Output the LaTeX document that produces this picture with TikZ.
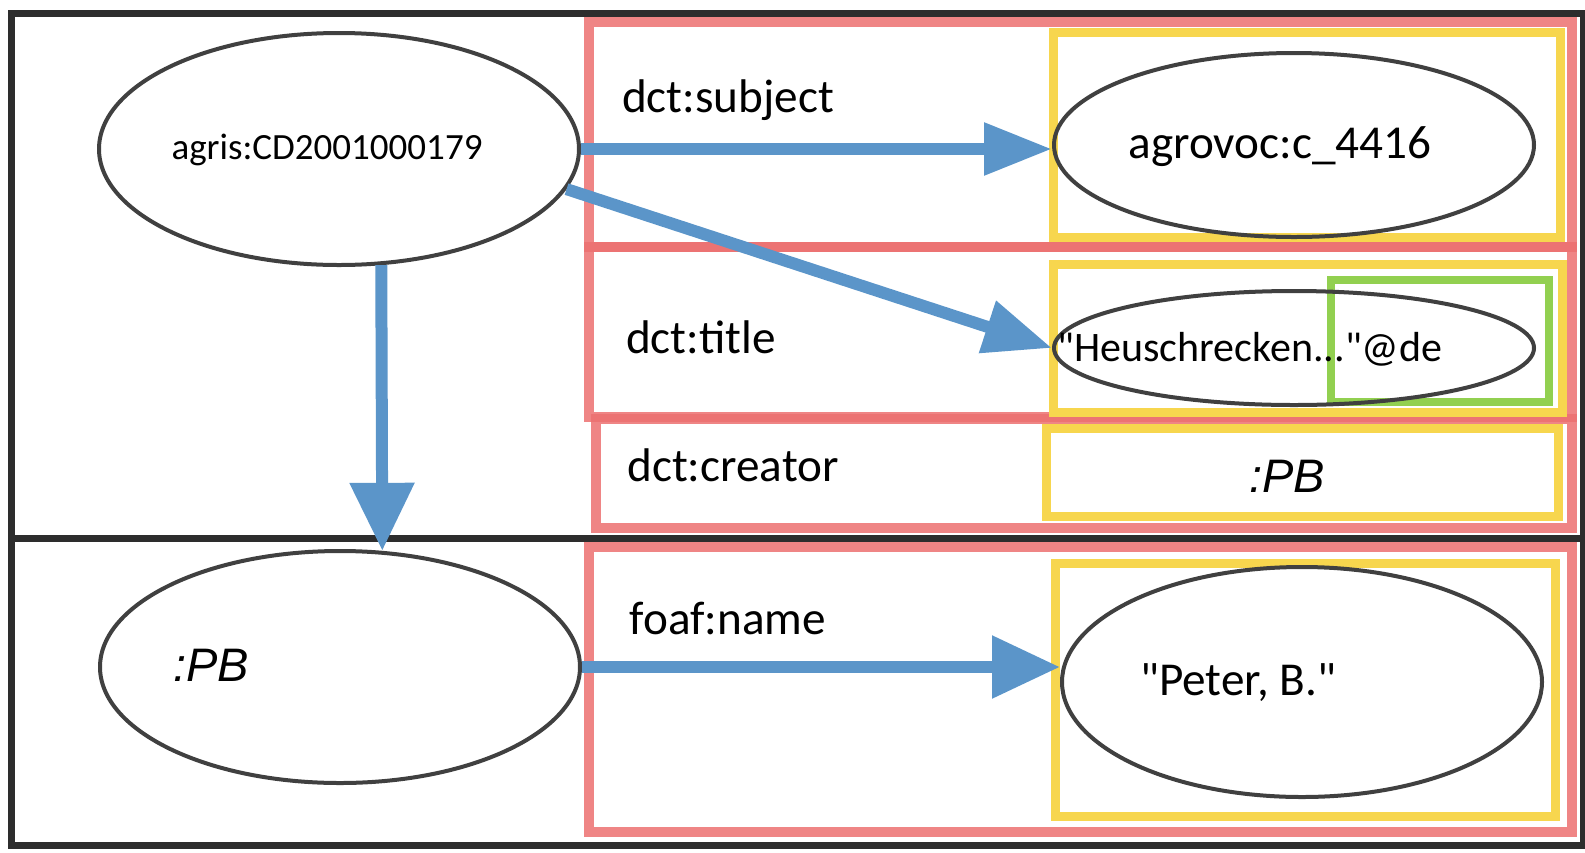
\documentclass[tikz,border=0pt]{standalone}
\usepackage{fontspec}
\setmainfont{Carlito}[Ligatures=TeXOff]
\newfontfamily\arialfont{Liberation Sans}
\usepackage{xcolor}
\usepackage{tikz}
\usetikzlibrary{arrows.meta, positioning, shapes.geometric}
\definecolor{linkblue}{RGB}{91,149,201}
\definecolor{boxred}{RGB}{236,112,112}
\definecolor{boxyellow}{RGB}{247,214,78}
\definecolor{boxgreen}{RGB}{146,208,80}
\definecolor{framegray}{RGB}{45,45,45}
\definecolor{ellgray}{RGB}{64,64,64}
\tikzset{
  res/.style={ellipse, draw=ellgray, line width=2pt, inner sep=0pt},
  pred/.style={font=\fontsize{23.6}{28}\selectfont, inner sep=0pt},
  blank/.style={font=\arialfont\itshape\fontsize{23.5}{28}\selectfont, inner sep=0pt},
  link/.style={draw=linkblue, line width=6pt, -{Triangle[length=34pt,width=29pt]}},
  framebox/.style={draw=framegray, line width=3.5pt},
  redbox/.style={draw=boxred, line width=5pt, opacity=0.85},
  yellowbox/.style={draw=boxyellow, line width=4.5pt},
  greenbox/.style={draw=boxgreen, line width=4pt}
}

\begin{document}
\begin{tikzpicture}[x=0.5pt, y=-0.5pt]
\useasboundingbox (0,0) rectangle (1585,852);
\draw[redbox] (589,22) rectangle (1572,247);
\draw[redbox] (589,247) rectangle (1572,417);
\draw[redbox] (596,419) rectangle (1572,528);
\draw[redbox] (589,547) rectangle (1572,832);
\draw[yellowbox] (1053,32) rectangle (1560,237);
\draw[yellowbox] (1053,264) rectangle (1562,412);
\draw[yellowbox] (1046,428) rectangle (1558,516);
\draw[yellowbox] (1055,563) rectangle (1555,816);
\draw[greenbox] (1331,280) rectangle (1549,402);
\draw[framebox] (11,13) rectangle (1583,845);
\draw[framebox] (11,538) -- (1583,538);

\node[res, minimum width=240pt, minimum height=116pt] (agris) at (339,149) {};
\node[res, minimum width=240pt, minimum height=92pt] (agrovoc) at (1294,145) {};
\node[res, minimum width=240pt, minimum height=57pt] (title) at (1294,348) {};
\node[res, minimum width=240pt, minimum height=116pt] (pb) at (340,667) {};
\node[res, minimum width=240pt, minimum height=115pt] (name) at (1302,682) {};

\draw[link, -{Triangle[length=34pt,width=25pt]}] (agris.east) -- (agris.east -| agrovoc.west);
\draw[link, -{Triangle[length=34pt,width=26pt]}] (agris.-10) -- (title.west);
\draw[link, -{Triangle[length=34pt,width=31pt]}] (agris.-70) -- (pb.70);
\draw[link, -{Triangle[length=34pt,width=30pt]}] (pb.east) -- (pb.east -| name.west);

\node[pred, font=\fontsize{18.5}{22}\selectfont] (agrislbl) at (327,150) {agris:CD2001000179};
\node[pred] (agrovoclbl) at (1280,147) {agrovoc:c\_4416};
\node[pred, font=\fontsize{21}{25}\selectfont] (titlelbl) at (1250,349) {"Heuschrecken..."@de};
\node[blank] (creatorlbl) at (1287,476) {:PB};
\node[blank] (pblbl) at (211,665) {:PB};
\node[pred] (namelbl) at (1238,683) {"Peter, B."};

\node[pred] (subjectp) at (728,100) {dct:subject};
\node[pred] (titlep) at (701,337) {dct:title};
\node[pred] (creatorp) at (733,465) {dct:creator};
\node[pred] (namep) at (728,618) {foaf:name};
\end{tikzpicture}
\end{document}
